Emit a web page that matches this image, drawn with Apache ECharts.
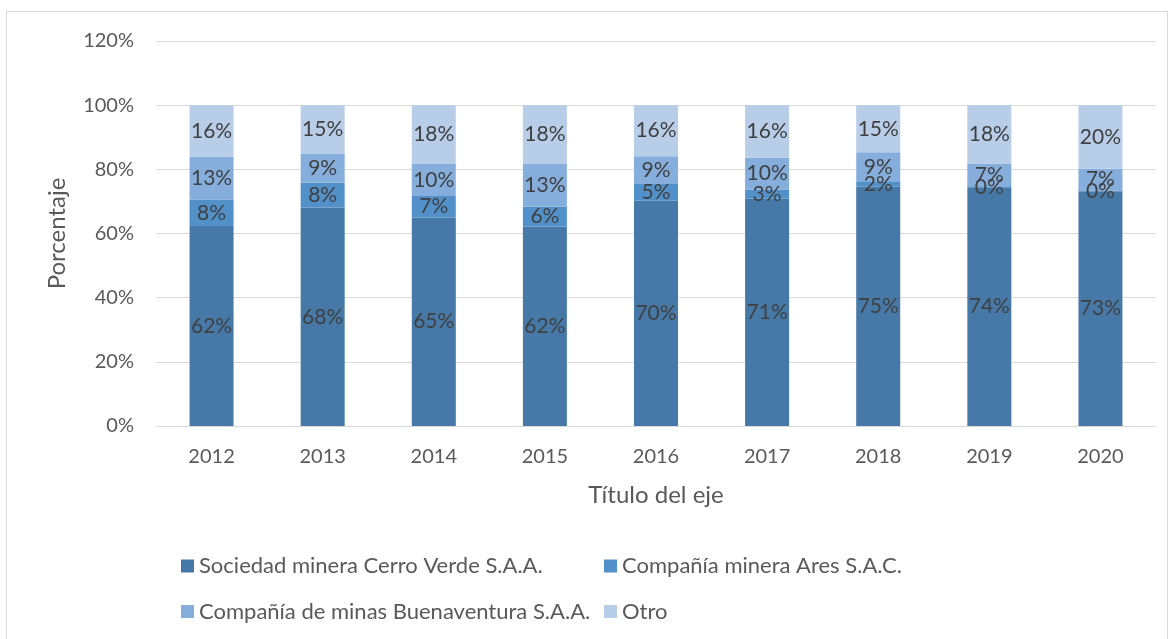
<!DOCTYPE html>
<html>
<head>
<meta charset="utf-8">
<script src="https://cdn.jsdelivr.net/npm/echarts@6/dist/echarts.min.js"></script>
<style>
  html, body { margin: 0; padding: 0; background: #fff; }
  #frame {
    position: absolute; left: 6px; top: 11px; width: 1162px; height: 640px;
    border: 1px solid #d9d9d9; box-sizing: border-box;
  }
  #main { position: absolute; left: 0; top: 0; width: 1170px; height: 639px; }
</style>
</head>
<body>
<div id="frame"></div>
<div id="main"></div>
<script>
// values (percent)
const years = ["2012", "2013", "2014", "2015", "2016", "2017", "2018", "2019", "2020"];
const cerroVerde = [62.3, 68.1, 65.0, 62.2, 70.2, 70.8, 74.6, 74.4, 73.2];
const ares = [8.3, 7.7, 6.7, 6.2, 5.2, 2.9, 1.7, 0.3, 0.2];
const buenaventura = [13.4, 9.0, 10.1, 13.3, 8.7, 9.9, 9.0, 7.1, 6.8];
const otro = [16.0, 15.2, 18.2, 18.3, 15.9, 16.4, 14.7, 18.2, 19.8];
const yTicks = [0, 20, 40, 60, 80, 100, 120];

const font = "Lato, 'Open Sans', sans-serif";

function makeSeries(name, data, color) {
  return {
    name: name,
    type: "bar",
    stack: "total",
    barWidth: 44,
    data: data,
    itemStyle: { color: color },
    label: {
      show: true,
      position: "inside",
      color: "#404040",
      fontSize: 21,
      fontFamily: font,
      formatter: (p) => Math.round(p.value) + "%",
    },
  };
}

const chart = echarts.init(document.getElementById("main"), null, { renderer: "canvas" });

const legendBase = {
  orient: "vertical",
  top: 555,
  padding: 0,
  itemWidth: 13,
  itemHeight: 13,
  itemGap: 23.5,
  icon: "rect",
  textStyle: { color: "#595959", fontSize: 22, fontFamily: font },
};

const option = {
  animation: false,
  textStyle: { fontFamily: font },
  grid: { left: 156, right: 14, top: 41, bottom: 213 },
  legend: [
    Object.assign({}, legendBase, {
      left: 181,
      data: ["Sociedad minera Cerro Verde S.A.A.", "Compañía de minas Buenaventura S.A.A."],
    }),
    Object.assign({}, legendBase, {
      left: 604,
      data: ["Compañía minera Ares S.A.C.", "Otro"],
    }),
  ],
  xAxis: {
    type: "category",
    data: years,
    name: "Título del eje",
    nameLocation: "middle",
    nameGap: 57,
    nameTextStyle: { color: "#595959", fontSize: 24, fontFamily: font },
    axisLine: { show: true, lineStyle: { color: "#d9d9d9" } },
    axisTick: { show: false },
    axisLabel: { color: "#595959", fontSize: 20, margin: 21 },
  },
  yAxis: {
    type: "value",
    min: yTicks[0],
    max: yTicks[yTicks.length - 1],
    interval: 20,
    name: "Porcentaje",
    nameLocation: "middle",
    nameGap: 87,
    nameTextStyle: { color: "#595959", fontSize: 24, fontFamily: font },
    axisLine: { show: false },
    axisTick: { show: false },
    axisLabel: { color: "#595959", fontSize: 20, margin: 22, formatter: "{value}%" },
    splitLine: { lineStyle: { color: "#d9d9d9", width: 1 } },
  },
  series: [
    makeSeries("Sociedad minera Cerro Verde S.A.A.", cerroVerde, "#4679a8"),
    makeSeries("Compañía minera Ares S.A.C.", ares, "#5290c9"),
    makeSeries("Compañía de minas Buenaventura S.A.A.", buenaventura, "#85aedc"),
    makeSeries("Otro", otro, "#b8cde8"),
  ],
};

chart.setOption(option);
</script>
</body>
</html>
